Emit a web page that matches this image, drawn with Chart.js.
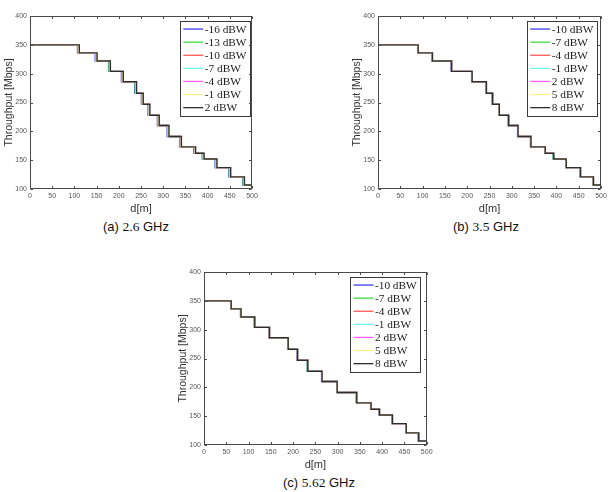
<!DOCTYPE html>
<html>
<head>
<meta charset="utf-8">
<script src="https://cdn.jsdelivr.net/npm/chart.js@4/dist/chart.umd.min.js"></script>
<style>
  html, body { margin:0; padding:0; background:#fff; }
  body { width:610px; height:492px; position:relative; overflow:hidden; }
  canvas { position:absolute; }
  .cap { position:absolute; font-family:"Liberation Sans", Arial, sans-serif; font-size:13px; color:#111; white-space:nowrap; transform:translate(-50%,-50%); }
  .cap .m { font-family:"Liberation Serif", "DejaVu Serif", serif; font-size:13.5px; }
</style>
</head>
<body>
<canvas id="cA" width="262" height="218" style="left:0px;top:0px"></canvas>
<canvas id="cB" width="262" height="218" style="left:348px;top:0px"></canvas>
<canvas id="cC" width="262" height="218" style="left:174px;top:256px"></canvas>
<div class="cap" style="left:136px;top:227px">(a) <span class="m">2.6</span> GHz</div>
<div class="cap" style="left:486px;top:227px">(b) <span class="m">3.5</span> GHz</div>
<div class="cap" style="left:319px;top:483px">(c) <span class="m">5.62</span> GHz</div>
<script>
// Throughput levels (Mbps), one per distance segment, shared by all curves
const levels = [350,336,322,304,286,266,247,228,210,191,173,162,152,137,121,107];
const dMax = 500;
const xTicks = [0,50,100,150,200,250,300,350,400,450,500];
const yTicks = [100,150,200,250,300,350,400];

// (a) 2.6 GHz: distances (m) where each level drops to the next
const powersA = ['-16 dBW','-13 dBW','-10 dBW','-7 dBW','-4 dBW','-1 dBW','2 dBW'];
const stepsA_m16 = [107,147,177,206,236,251,266,287,309,337,369,388,417,448,479];
const stepsA_m13 = [108,148,178,207,237,252,267,288,310,338,370,389,418,449,480];
const stepsA_m10 = [108,149,179,208,238,253,268,289,311,339,371,390,419,450,481];
const stepsA_m7  = [109,149,179,208,238,253,268,289,311,339,371,390,419,450,481];
const stepsA_m4  = [110,150,180,209,239,254,269,290,312,340,372,391,420,451,482];
const stepsA_m1  = [110,150,180,209,239,254,269,290,312,340,372,391,420,451,482];
const stepsA_p2  = [111,151,181,210,240,255,270,291,313,341,373,392,421,452,483];

// (b) 3.5 GHz
const powersB = ['-10 dBW','-7 dBW','-4 dBW','-1 dBW','2 dBW','5 dBW','8 dBW'];
const stepsB_m10 = [89,121,164,210,242,256,271,292,313,342,374,393,421,453,482];
const stepsB_m7  = [89,121,165,210,242,257,271,292,314,342,374,393,422,453,482];
const stepsB_m4  = [90,122,165,210,243,257,272,293,314,343,375,394,422,454,483];
const stepsB_m1  = [90,122,165,211,243,257,272,293,314,343,375,394,422,454,483];
const stepsB_p2  = [90,122,165,211,243,257,272,293,314,343,375,394,422,454,483];
const stepsB_p5  = [90,122,165,211,243,257,272,293,314,343,375,394,422,454,483];
const stepsB_p8  = [90,122,165,211,243,257,272,293,314,343,375,394,422,454,483];

// (c) 5.62 GHz
const powersC = ['-10 dBW','-7 dBW','-4 dBW','-1 dBW','2 dBW','5 dBW','8 dBW'];
const stepsC_m10 = [60,82,113,146,188,209,232,264,298,342,374,393,422,453,481];
const stepsC_m7  = [60,83,113,147,188,210,232,265,299,342,375,394,423,454,482];
const stepsC_m4  = [61,83,114,147,189,210,233,265,299,343,375,394,423,454,482];
const stepsC_m1  = [61,83,114,147,189,210,233,265,299,343,375,394,423,454,482];
const stepsC_p2  = [61,83,114,147,189,210,233,265,299,343,375,394,423,454,482];
const stepsC_p5  = [61,83,114,147,189,210,233,265,299,343,375,394,423,454,482];
const stepsC_p8  = [61,83,114,147,189,210,233,265,299,343,375,394,423,454,482];

const colors = ['#3f3ff0','#3fdc3f','#ff5757','#70f4f4','#ff5cff','#f6f38a','#2e2e2e'];

function curve(steps){
  const pts = [{x:0, y:levels[0]}];
  steps.forEach((d,i)=>pts.push({x:d, y:levels[i+1]}));
  pts.push({x:dMax, y:levels[levels.length-1]});
  return pts;
}

const boxLegend = {
  id:'boxLegend',
  afterDatasetsDraw(chart, args, opts){
    const ctx = chart.ctx, ca = chart.chartArea;
    const ds = chart.data.datasets;
    ctx.save();
    ctx.font = opts.font;
    const tw = Math.max(...ds.map(d=>ctx.measureText(d.label).width));
    const w = 3 + 20 + 1.5 + tw + 3.5;
    const h = ds.length*opts.rowH + 3;
    const x1 = ca.right - opts.right, x0 = x1 - w, y0 = ca.top + opts.top;
    ctx.fillStyle = '#fff';
    ctx.fillRect(x0, y0, w, h);
    ctx.strokeStyle = '#3a3a3a'; ctx.lineWidth = 1;
    ctx.strokeRect(Math.round(x0)+0.5, Math.round(y0)+0.5, Math.round(w), Math.round(h));
    ctx.textBaseline = 'middle'; ctx.textAlign = 'left';
    ds.forEach((d,i)=>{
      const yc = y0 + 1.5 + opts.rowH*(i+0.5);
      ctx.strokeStyle = d.borderColor; ctx.lineWidth = 1.3;
      ctx.beginPath(); ctx.moveTo(x0+3, yc); ctx.lineTo(x0+23, yc); ctx.stroke();
      ctx.fillStyle = '#1a1a1a';
      ctx.fillText(d.label, x0+24.5, yc+0.5);
    });
    ctx.restore();
  }
};

const frameTicks = {
  id:'frameTicks',
  afterDraw(chart){
    const ctx = chart.ctx, ca = chart.chartArea;
    const xs = chart.scales.x, ys = chart.scales.y;
    ctx.save();
    ctx.strokeStyle = '#4a4a4a'; ctx.lineWidth = 1;
    const L = Math.round(ca.left)+0.5, R = Math.round(ca.right)-0.5, T = Math.round(ca.top)+0.5, B = Math.round(ca.bottom)-0.5;
    ctx.beginPath();
    xs.ticks.forEach(t=>{
      const px = Math.round(xs.getPixelForValue(t.value))+0.5;
      ctx.moveTo(px, B); ctx.lineTo(px, B-2.5);
      ctx.moveTo(px, T); ctx.lineTo(px, T+2.5);
    });
    ys.ticks.forEach(t=>{
      const py = Math.round(ys.getPixelForValue(t.value))+0.5;
      ctx.moveTo(L, py); ctx.lineTo(L+2.5, py);
      ctx.moveTo(R, py); ctx.lineTo(R-2.5, py);
    });
    ctx.stroke();
    ctx.strokeRect(L, T, R-L, B-T);
    ctx.restore();
  }
};

function makeChart(id, powers, stepSets, padRight, legRight){
  const datasets = powers.map((p,i)=>({
    label: p,
    data: curve(stepSets[i]),
    borderColor: colors[i],
    borderWidth: 1.4,
    stepped: true,
    pointRadius: 0,
    fill: false,
    order: powers.length - i
  }));
  return new Chart(document.getElementById(id), {
    type:'line',
    data:{ datasets },
    options:{
      responsive:false, animation:false, devicePixelRatio:1,
      layout:{ padding:{ top:16, right:padRight, left:0, bottom:0 } },
      plugins:{ legend:{display:false}, tooltip:{enabled:false},
        boxLegend:{ right:legRight, top:5, rowH:13.1, font:'11.3px "Liberation Serif", "Times New Roman", serif' } },
      scales:{
        x:{ type:'linear', min:0, max:dMax,
          afterBuildTicks(s){ s.ticks = xTicks.map(v=>({value:v})); },
          afterFit(s){ s.height = 29; },
          grid:{ display:false, drawTicks:false }, border:{ display:false },
          ticks:{ font:{ size:7, family:'"Liberation Sans", Arial, sans-serif' }, color:'#555', padding:3, maxRotation:0, autoSkip:false },
          title:{ display:true, text:'d[m]', font:{ size:11, family:'"Liberation Sans", Arial, sans-serif', lineHeight:1 }, color:'#333', padding:{ top:0, bottom:3.5 } }
        },
        y:{ type:'linear', min:100, max:400,
          afterBuildTicks(s){ s.ticks = yTicks.map(v=>({value:v})); },
          afterFit(s){ s.width = 30; },
          grid:{ display:false, drawTicks:false }, border:{ display:false },
          ticks:{ font:{ size:7, family:'"Liberation Sans", Arial, sans-serif' }, color:'#555', padding:3, autoSkip:false },
          title:{ display:true, text:'Throughput [Mbps]', font:{ size:10.5, family:'"Liberation Sans", Arial, sans-serif', lineHeight:1 }, color:'#333', padding:{ top:3.5, bottom:0 } }
        }
      }
    },
    plugins:[frameTicks, boxLegend]
  });
}

makeChart('cA', powersA, [stepsA_m16,stepsA_m13,stepsA_m10,stepsA_m7,stepsA_m4,stepsA_m1,stepsA_p2], 10, 2);
makeChart('cB', powersB, [stepsB_m10,stepsB_m7,stepsB_m4,stepsB_m1,stepsB_p2,stepsB_p5,stepsB_p8], 9, 4);
makeChart('cC', powersC, [stepsC_m10,stepsC_m7,stepsC_m4,stepsC_m1,stepsC_p2,stepsC_p5,stepsC_p8], 9.3, 6.5);
</script>
</body>
</html>
